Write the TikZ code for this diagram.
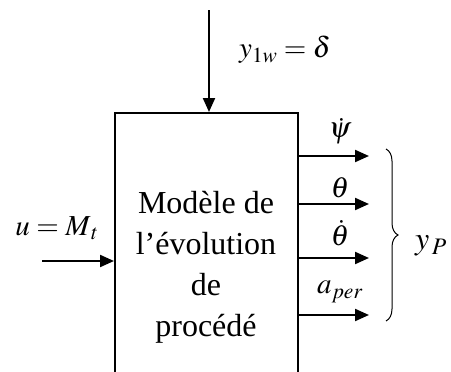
\documentclass[tikz,border=0pt]{standalone}
\usepackage{mathptmx}
\usepackage{fontspec}
\setmainfont{Liberation Serif}
\usetikzlibrary{arrows.meta,decorations.pathreplacing}
\begin{document}
\begin{tikzpicture}[x=1pt,y=-1pt,
  conn/.style={line width=2.2pt,-{Triangle[length=14pt,width=12pt]}},
  lbl/.style={font=\fontsize{29}{29}\selectfont,inner sep=0pt},
  boxtext/.style={font=\fontsize{32}{41}\selectfont,align=center,inner sep=0pt}]
\useasboundingbox (0,0) rectangle (451,372);
\node[draw,line width=2pt,minimum width=183pt,minimum height=290pt,anchor=north west,inner sep=0pt] (box) at (114,112) {};
\node[boxtext] (txt) at (206,267) {Modèle de\\l’évolution\\de\\procédé};
\coordinate (topin) at (209,10);
\coordinate (topend) at (209,112);
\draw[conn] (topin) -- (topend);
\node[lbl] (y1w) at (285,50) {$y_{1w}=\delta$};
\coordinate (uin) at (42,261);
\coordinate (uend) at (114,261);
\draw[conn] (uin) -- (uend);
\node[lbl] (ulbl) at (57,228) {$u=M_{\,t}$};
\foreach \n/\y in {a/156,b/204,c/258,d/315}{
  \coordinate (s\n) at (297,\y);
  \coordinate (e\n) at (369,\y);
  \draw[conn] (s\n) -- (e\n);
}
\node[lbl] (psi) at (340,131) {$\dot\psi$};
\node[lbl] (th) at (340,188) {$\theta$};
\node[lbl] (thd) at (340,233) {$\dot\theta$};
\node[lbl] (aper) at (340,292) {$a_{per}$};
\coordinate (bt) at (386,149);
\coordinate (bb) at (386,321);
\draw[line width=1pt,decorate,decoration={brace,amplitude=12pt}] (bt) -- (bb);
\node[lbl,font=\fontsize{32}{32}\selectfont] (yp) at (431,246) {$y_{\,P}$};
\end{tikzpicture}
\end{document}
